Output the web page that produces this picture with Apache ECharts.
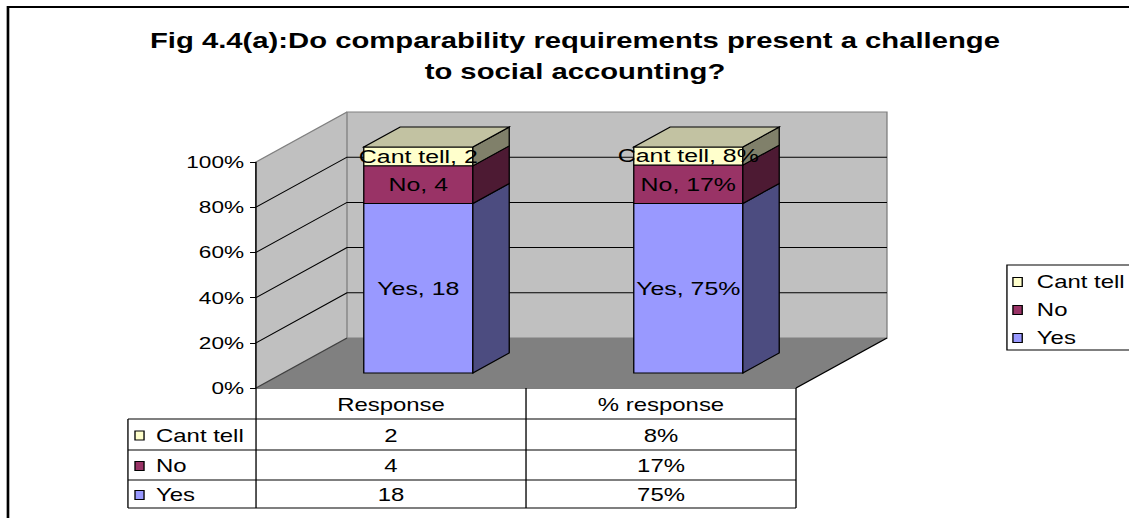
<!DOCTYPE html>
<html>
<head>
<meta charset="utf-8">
<script src="https://cdn.jsdelivr.net/npm/echarts@6/dist/echarts.min.js"></script>
<style>
  html, body { margin: 0; padding: 0; background: #fff; overflow: hidden; }
  /* the chart is laid out on a narrower canvas and stretched horizontally */
  #chart { width: 849px; height: 518px; transform: scaleX(1.33); transform-origin: 0 0; }
</style>
</head>
<body>
<div id="chart"></div>
<script>
// ---- data ----
const categories = ['Response', '% response'];
const valueSuffix = ['', '%'];
const seriesNames = ['Yes', 'No', 'Cant tell'];
const yesValues = [18, 75];
const noValues = [4, 17];
const cantTellValues = [2, 8];
const yTicks = [0, 20, 40, 60, 80, 100];
const titleLines = ['Fig 4.4(a):Do comparability requirements present a challenge', 'to social accounting?'];

// ---- styling / layout ----
const FONT = '"Liberation Sans", Arial, sans-serif';
const COLORS = [
  { front: '#9999FF', side: '#4C4C80', top: '#7A7ACC' },
  { front: '#993366', side: '#4D1A33', top: '#7A2952' },
  { front: '#FFFFCC', side: '#80806A', top: '#C2C2A2' }
];
const GRID = { left: 192.5, right: 250.5, top: 162, bottom: 130 };
const DEPTH = { x: 68.4, y: -50 };      // wall depth in pixels
const BAR_FRONT = 0.3, BAR_DEPTH = 0.4; // bar position / thickness inside the depth
const BAR_RATIO = 0.404;                // bar width relative to category band

const valueSets = [yesValues, noValues, cantTellValues];
const totals = categories.map((_, i) => valueSets.reduce((s, arr) => s + arr[i], 0));

// 100% stacked ranges: [category, start%, end%, raw value]
function stackedData(k) {
  return categories.map((_, i) => {
    let start = 0;
    for (let j = 0; j < k; j++) start += valueSets[j][i] / totals[i] * 100;
    const end = start + valueSets[k][i] / totals[i] * 100;
    return [i, start, end, valueSets[k][i]];
  });
}

function wallRenderer(params, api) {
  const cs = params.coordSys;
  const L = cs.x, R = cs.x + cs.width;
  const yTop = api.coord([0, yTicks[yTicks.length - 1]])[1];
  const yBot = api.coord([0, yTicks[0]])[1];
  const dx = DEPTH.x, dy = DEPTH.y;
  const children = [
    { type: 'polygon', shape: { points: [[L, yTop], [L + dx, yTop + dy], [L + dx, yBot + dy], [L, yBot]] },
      style: { fill: '#C0C0C0' } },
    { type: 'rect', shape: { x: L + dx, y: yTop + dy, width: cs.width, height: yBot - yTop },
      style: { fill: '#C0C0C0', stroke: '#808080', lineWidth: 1 } },
    { type: 'polygon', shape: { points: [[L, yBot], [L + dx, yBot + dy], [R + dx, yBot + dy], [R, yBot]] },
      style: { fill: '#808080' } }
  ];
  yTicks.forEach(v => {
    if (v === yTicks[0] || v === yTicks[yTicks.length - 1]) return;
    const y = api.coord([0, v])[1];
    children.push({ type: 'polyline', shape: { points: [[L, y], [L + dx, y + dy], [R + dx, y + dy]] },
      style: { stroke: '#000', lineWidth: 1, fill: null } });
  });
  children.push(
    { type: 'line', shape: { x1: L, y1: yTop, x2: L + dx, y2: yTop + dy }, style: { stroke: '#808080', lineWidth: 1 } },
    { type: 'line', shape: { x1: L, y1: yBot, x2: L + dx, y2: yBot + dy }, style: { stroke: '#404040', lineWidth: 1 } },
    { type: 'line', shape: { x1: R, y1: yBot, x2: R + dx, y2: yBot + dy }, style: { stroke: '#000', lineWidth: 1 } },
    { type: 'line', shape: { x1: L, y1: yTop, x2: L, y2: yBot }, style: { stroke: '#000', lineWidth: 1 } }
  );
  return { type: 'group', children };
}

function barRenderer(k) {
  return function (params, api) {
    const cs = params.coordSys;
    const cat = api.value(0);
    const bw = cs.width / categories.length * BAR_RATIO;
    const base = api.coord([cat, api.value(1)]);
    const top = api.coord([cat, api.value(2)]);
    const fx = DEPTH.x * BAR_FRONT, fy = DEPTH.y * BAR_FRONT;
    const dx = DEPTH.x * BAR_DEPTH, dy = DEPTH.y * BAR_DEPTH;
    const x0 = base[0] - bw / 2 + fx, x1 = x0 + bw;
    const y0 = base[1] + fy, y1 = top[1] + fy;
    const c = COLORS[k];
    const children = [
      { type: 'rect', shape: { x: x0, y: y1, width: bw, height: y0 - y1 },
        style: { fill: c.front, stroke: '#000', lineWidth: 1 } },
      { type: 'polygon', shape: { points: [[x1, y0], [x1 + dx, y0 + dy], [x1 + dx, y1 + dy], [x1, y1]] },
        style: { fill: c.side, stroke: '#000', lineWidth: 1 } }
    ];
    if (k === valueSets.length - 1) {
      children.push({ type: 'polygon', shape: { points: [[x0, y1], [x0 + dx, y1 + dy], [x1 + dx, y1 + dy], [x1, y1]] },
        style: { fill: c.top, stroke: '#000', lineWidth: 1 } });
    }
    children.push({ type: 'text', z2: 10, style: {
      text: seriesNames[k] + ', ' + api.value(3) + valueSuffix[cat],
      x: (x0 + x1) / 2, y: (y0 + y1) / 2,
      align: 'center', verticalAlign: 'middle', textAlign: 'center', textVerticalAlign: 'middle',
      font: '18.7px ' + FONT, fill: '#000' } });
    return { type: 'group', children };
  };
}

// ---- data table under the plot ----
function tableGraphics(chartWidth) {
  const els = [];
  const colEdges = [];
  const gridW = chartWidth - GRID.left - GRID.right;
  for (let i = 0; i <= categories.length; i++) colEdges.push(GRID.left + gridW / categories.length * i);
  const tableLeft = 96.2;
  const rows = [388, 419, 450, 480, 508];
  const right = colEdges[colEdges.length - 1];
  const line = (x1, y1, x2, y2) => els.push({ type: 'line', shape: { x1, y1, x2, y2 }, style: { stroke: '#000', lineWidth: 1 }, silent: true });
  line(colEdges[0], rows[0], right, rows[0]);
  for (let r = 1; r < rows.length; r++) line(tableLeft, rows[r], right, rows[r]);
  line(tableLeft, rows[1], tableLeft, rows[rows.length - 1]);
  colEdges.forEach(x => line(x, rows[0], x, rows[rows.length - 1]));
  const text = (t, x, y, align) => els.push({ type: 'text', silent: true, style: {
    text: t, x, y, align, verticalAlign: 'middle', textAlign: align, textVerticalAlign: 'middle',
    font: '18px ' + FONT, fill: '#000' } });
  categories.forEach((c, i) => text(c, (colEdges[i] + colEdges[i + 1]) / 2, (rows[0] + rows[1]) / 2 + 1, 'center'));
  // rows listed top-down in reverse stacking order
  const order = valueSets.map((_, k) => k).reverse();
  order.forEach((k, r) => {
    const yMid = (rows[r + 1] + rows[r + 2]) / 2 + 1;
    els.push({ type: 'rect', silent: true, shape: { x: 101.5, y: yMid - 4.5, width: 6.8, height: 9 },
      style: { fill: COLORS[k].front, stroke: '#000', lineWidth: 1 } });
    text(seriesNames[k], 117.3, yMid, 'left');
    categories.forEach((_, i) => text(valueSets[k][i] + valueSuffix[i], (colEdges[i] + colEdges[i + 1]) / 2, yMid, 'center'));
  });
  return els;
}

const chartEl = document.getElementById('chart');
const chart = echarts.init(chartEl, null, { renderer: 'svg' });
const chartWidth = chartEl.clientWidth;

const barSeries = valueSets.map((_, k) => ({
  type: 'custom',
  name: seriesNames[k],
  coordinateSystem: 'cartesian2d',
  renderItem: barRenderer(k),
  itemStyle: { color: COLORS[k].front },
  encode: { x: 0, y: [1, 2] },
  data: stackedData(k),
  z: 3,
  silent: true
}));

chart.setOption({
  animation: false,
  backgroundColor: '#fff',
  grid: GRID,
  xAxis: {
    type: 'category', data: categories,
    axisLine: { show: false }, axisTick: { show: false }, axisLabel: { show: false }, splitLine: { show: false }
  },
  yAxis: {
    type: 'value', min: 0, max: 100, interval: 20,
    axisLine: { show: true, lineStyle: { color: '#000', width: 1 } },
    axisTick: { show: true, inside: false, length: 4.5, lineStyle: { color: '#000' } },
    axisLabel: { formatter: '{value}%', fontSize: 17, fontFamily: FONT, color: '#000', margin: 9 },
    splitLine: { show: false }
  },
  legend: {
    data: seriesNames.slice().reverse(),
    orient: 'vertical', left: 757.1, top: 265,
    padding: [8, 70, 3, 4], itemGap: 10, itemWidth: 7, itemHeight: 9,
    borderColor: '#000', borderWidth: 1,
    icon: 'rect', selectedMode: false,
    itemStyle: { borderColor: '#000', borderWidth: 1 },
    textStyle: { fontSize: 18, fontFamily: FONT, color: '#000', padding: [0, 0, 0, 6] }
  },
  graphic: [
    { type: 'rect', silent: true, shape: { x: 6, y: 7, width: 2000, height: 2000 },
      style: { fill: null, stroke: '#000', lineWidth: 2 } },
    { type: 'text', silent: true, x: 432.3, y: 24.5, style: {
      text: titleLines.join('\n'), font: 'bold 22px ' + FONT, lineHeight: 31,
      align: 'center', verticalAlign: 'top', textAlign: 'center', textVerticalAlign: 'top', fill: '#000' } }
  ].concat(tableGraphics(chartWidth)),
  series: [{
    type: 'custom', name: 'walls', coordinateSystem: 'cartesian2d',
    renderItem: wallRenderer, data: [[0, 0]], z: 1, silent: true
  }].concat(barSeries)
});
</script>
</body>
</html>
